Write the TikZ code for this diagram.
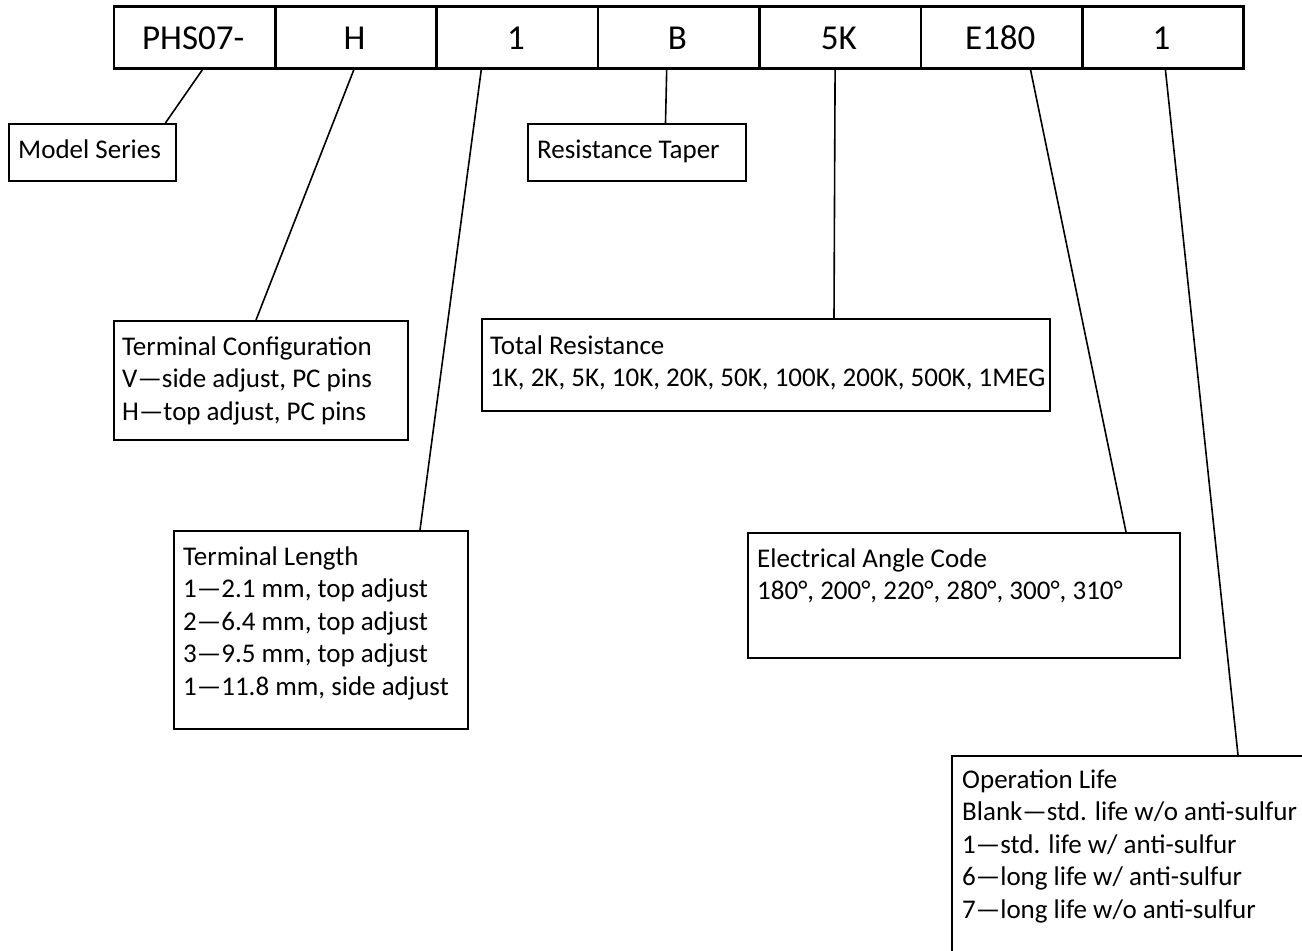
\documentclass[tikz,border=0pt]{standalone}
\usepackage{fontspec}
\setmainfont{Carlito}
\begin{document}
\begin{tikzpicture}[x=1pt,y=-1pt]
\tikzset{
  cell/.style={draw, line width=2.6pt, minimum width=161.4pt, minimum height=62pt, inner sep=0pt, anchor=north west},
  box/.style={draw, line width=2.4pt, inner sep=0pt, anchor=north west},
  lead/.style={line width=1.6pt},
  txt/.style={font=\fontsize{27}{32.6}\selectfont, anchor=base west, inner sep=0pt},
  big/.style={font=\fontsize{35}{40}\selectfont, anchor=base, inner sep=0pt}
}
\clip (0,0) rectangle (1302,951);
% top row cells
\node[cell] (c1) at (112.5,5) {};
\node[cell] (c2) at (273.9,5) {};
\node[cell] (c3) at (435.3,5) {};
\node[cell] (c4) at (596.7,5) {};
\node[cell] (c5) at (758.1,5) {};
\node[cell] (c6) at (919.5,5) {};
\node[cell] (c7) at (1080.9,5) {};
\node[big] (t1) at (193.2,49) {PHS07-};
\node[big] (t2) at (354.6,49) {H};
\node[big] (t3) at (516.0,49) {1};
\node[big] (t4) at (677.4,49) {B};
\node[big] (t5) at (838.8,49) {5K};
\node[big] (t6) at (1000.2,49) {E180};
\node[big] (t7) at (1161.6,49) {1};
% description boxes
\node[box, minimum width=167pt, minimum height=57pt] (ms) at (8,123) {};
\node[box, minimum width=218pt, minimum height=57pt] (rt) at (527,123) {};
\node[box, minimum width=294pt, minimum height=119pt] (tc) at (113,320) {};
\node[box, minimum width=568pt, minimum height=92pt] (tr) at (481,318) {};
\node[box, minimum width=294pt, minimum height=198pt] (tl) at (173,530) {};
\node[box, minimum width=432pt, minimum height=125pt] (ea) at (747,532) {};
\node[box, minimum width=420pt, minimum height=260pt] (ol) at (951,755) {};
% texts
\node[txt] (msT) at (18,158) {Model Series};
\node[txt] (rtT) at (537,158) {Resistance Taper};
\node[txt] (tcT) at (122,355) {\vtop{\hbox{Terminal Configuration}\hbox{V—side adjust, PC pins}\hbox{H—top adjust, PC pins}}};
\node[txt] (trT) at (490,354) {\vtop{\hbox{Total Resistance}\hbox{1K, 2K, 5K, 10K, 20K, 50K, 100K, 200K, 500K, 1MEG}}};
\node[txt] (tlT) at (183,565) {\vtop{\hbox{Terminal Length}\hbox{1—2.1 mm, top adjust}\hbox{2—6.4 mm, top adjust}\hbox{3—9.5 mm, top adjust}\hbox{1—11.8 mm, side adjust}}};
\node[txt] (eaT) at (757,567) {\vtop{\hbox{Electrical Angle Code}\hbox{180°, 200°, 220°, 280°, 300°, 310°}}};
\node[txt] (olT) at (962,788) {\vtop{\hbox{Operation Life}\hbox{Blank—std. life w/o anti-sulfur}\hbox{1—std. life w/ anti-sulfur}\hbox{6—long life w/ anti-sulfur}\hbox{7—long life w/o anti-sulfur}}};
% leaders
\draw[lead] ([xshift=8pt]c1.south) -- ([xshift=-12pt]ms.north east);
\draw[lead] ([xshift=-2pt]c2.south) -- ([xshift=143pt]tc.north west);
\draw[lead] ([xshift=-36pt]c3.south) -- ([xshift=247pt]tl.north west);
\draw[lead] ([xshift=-12pt]c4.south) -- ([xshift=138.5pt]rt.north west);
\draw[lead] ([xshift=-5pt]c5.south) -- ([xshift=353pt]tr.north west);
\draw[lead] ([xshift=29pt]c6.south) -- ([xshift=379pt]ea.north west);
\draw[lead] ([xshift=2.5pt]c7.south) -- ([xshift=287pt]ol.north west);
\end{tikzpicture}
\end{document}
